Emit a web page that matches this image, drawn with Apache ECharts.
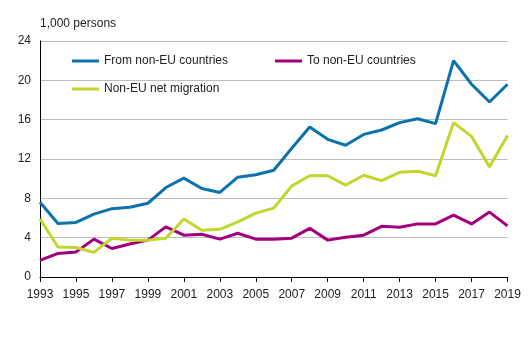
<!DOCTYPE html>
<html><head><meta charset="utf-8">
<script src="https://cdn.jsdelivr.net/npm/echarts@6/dist/echarts.min.js"></script>
<style>html,body{margin:0;padding:0;background:#fff}#c{width:530px;height:341px}</style>
</head><body><div id="c"></div>
<script>
const years = ['1993','1994','1995','1996','1997','1998','1999','2000','2001','2002','2003','2004','2005','2006','2007','2008','2009','2010','2011','2012','2013','2014','2015','2016','2017','2018','2019'];
const fromNonEU = [7.6,5.45,5.55,6.4,6.95,7.1,7.5,9.1,10.05,9.0,8.6,10.15,10.4,10.85,13.1,15.25,14.0,13.4,14.5,14.95,15.7,16.1,15.6,22.0,19.6,17.8,19.6];
const toNonEU = [1.7,2.4,2.55,3.85,2.9,3.35,3.75,5.1,4.25,4.35,3.85,4.45,3.85,3.85,3.95,4.95,3.75,4.05,4.25,5.15,5.05,5.4,5.4,6.3,5.4,6.6,5.2];
const netMigration = [5.9,3.05,3.0,2.5,3.95,3.75,3.75,3.95,5.9,4.75,4.85,5.6,6.5,7.0,9.25,10.3,10.3,9.35,10.35,9.8,10.65,10.75,10.3,15.7,14.3,11.2,14.4];
const yTicks = [0,4,8,12,16,20,24];

const font = 'Liberation Sans, Arial, sans-serif';
const chart = echarts.init(document.getElementById('c'));
const mk = (name, data, color) => ({
  name, type: 'line', data, symbol: 'none', smooth: false,
  lineStyle: {color, width: 3}, itemStyle: {color}, animation: false
});
chart.setOption({
  animation: false,
  textStyle: {fontFamily: font},
  title: {text: '1,000 persons', left: 35, top: 13, textStyle: {fontSize: 12, fontWeight: 'normal', color: '#222', fontFamily: font}},
  grid: {left: 40, right: 22.5, top: 41, bottom: 64, containLabel: false},
  legend: [
    {data: ['From non-EU countries', 'Non-EU net migration'], orient: 'vertical', left: 72, top: 55, padding: 0, itemGap: 16, itemWidth: 27, itemHeight: 3, icon: 'rect', textStyle: {fontSize: 12, color: '#222', fontFamily: font}},
    {data: ['To non-EU countries'], orient: 'vertical', left: 275, top: 55, padding: 0, itemWidth: 27, itemHeight: 3, icon: 'rect', textStyle: {fontSize: 12, color: '#222', fontFamily: font}}
  ],
  xAxis: {
    type: 'category', data: years, boundaryGap: false,
    axisLine: {lineStyle: {color: '#000', width: 1}},
    axisTick: {interval: 1, length: 5, lineStyle: {color: '#000'}},
    axisLabel: {interval: 1, fontSize: 12, color: '#222', margin: 12, fontFamily: font},
    splitLine: {show: false}
  },
  yAxis: {
    type: 'value', min: yTicks[0], max: yTicks[yTicks.length-1], interval: 4,
    axisLine: {show: true, lineStyle: {color: '#000', width: 1}},
    axisTick: {show: false},
    axisLabel: {fontSize: 12, color: '#222', margin: 9, fontFamily: font},
    splitLine: {lineStyle: {color: '#bdbdbd', width: 1}}
  },
  series: [
    mk('From non-EU countries', fromNonEU, '#0a72ad'),
    mk('To non-EU countries', toNonEU, '#a3007f'),
    mk('Non-EU net migration', netMigration, '#c2d62c')
  ]
});
</script></body></html>
